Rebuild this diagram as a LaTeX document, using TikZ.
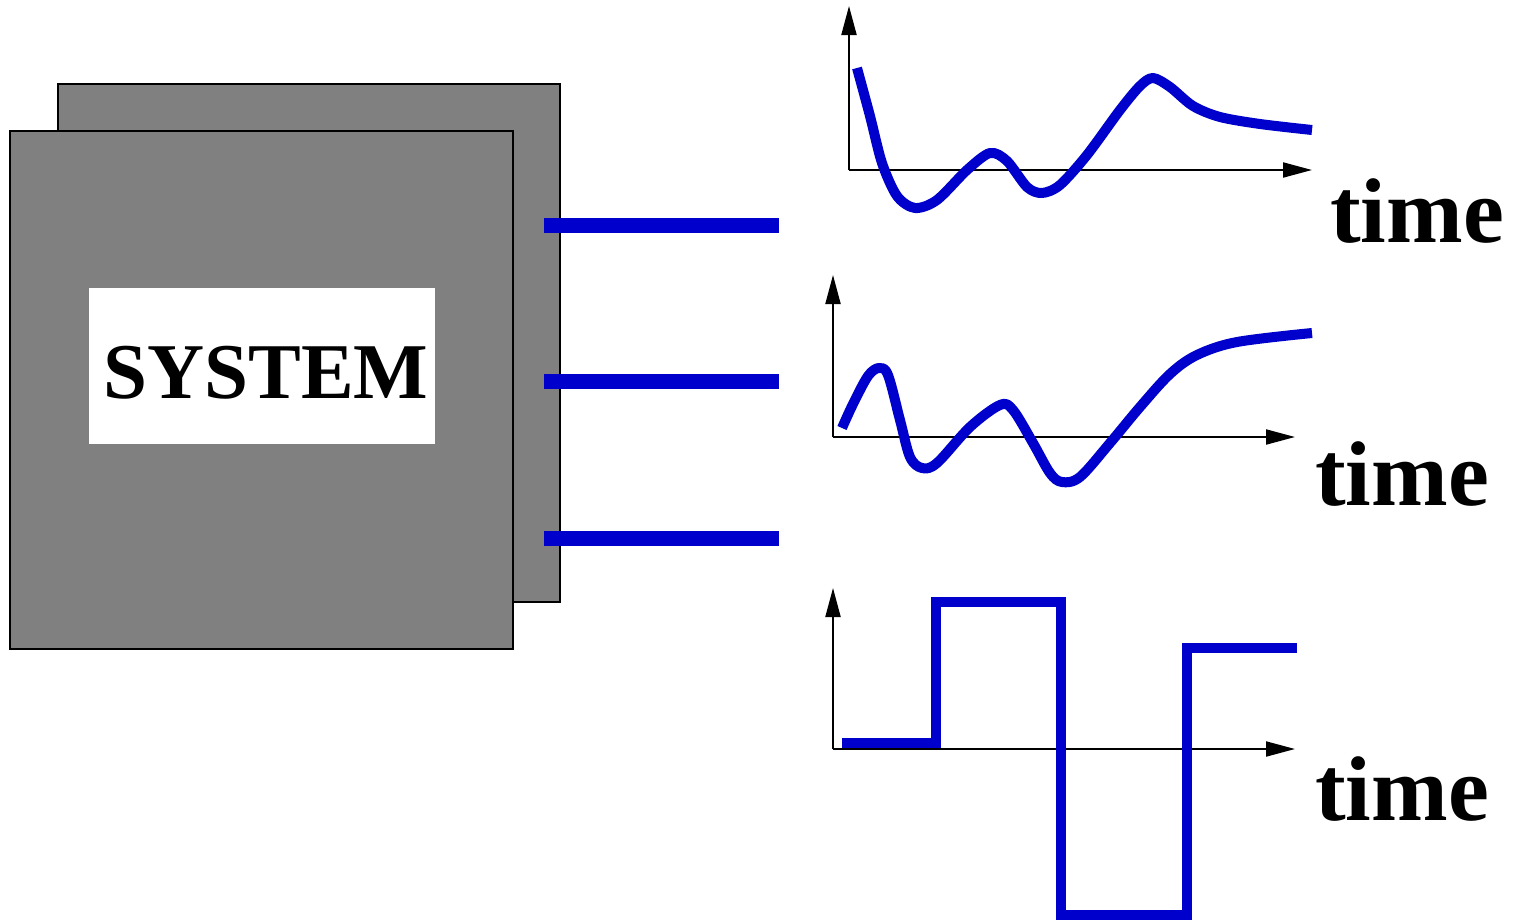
\documentclass[tikz,border=0pt]{standalone}
\usepackage{fontspec}
\setmainfont{Liberation Serif}
\usetikzlibrary{arrows.meta}
\definecolor{sigblue}{RGB}{0,0,204}
\definecolor{boxgray}{RGB}{128,128,128}
\begin{document}
\begin{tikzpicture}[x=1pt,y=-1pt,
  sysbox/.style={draw=black,line width=2pt,fill=boxgray},
  signal/.style={draw=sigblue,line width=10pt,line cap=butt},
  stub/.style={draw=sigblue,line width=15pt,line cap=butt},
  axis/.style={draw=black,line width=2pt,-{Triangle[length=29pt,width=15pt]}},
  timelabel/.style={inner sep=0pt,anchor=base west,font=\bfseries\fontsize{92}{92}\selectfont},
  syslabel/.style={inner sep=0pt,anchor=base,font=\bfseries\fontsize{79}{79}\selectfont}]
\useasboundingbox (0,0) rectangle (1519,921);
% system boxes
\draw[sysbox] (58,84) rectangle (560,602);
\draw[sysbox] (10,131) rectangle (513,649);
\fill[white] (89,288) rectangle (435,444);
\node[syslabel] (sys) at (266,398) {SYSTEM};
% output stubs
\coordinate (s1a) at (544,225); \coordinate (s1b) at (779,225);
\coordinate (s2a) at (544,381); \coordinate (s2b) at (779,381);
\coordinate (s3a) at (544,538); \coordinate (s3b) at (779,538);
\draw[stub] (s1a) -- (s1b);
\draw[stub] (s2a) -- (s2b);
\draw[stub] (s3a) -- (s3b);
% graph 1
\coordinate (o1) at (849,170);
\coordinate (y1) at (849,6);
\coordinate (x1) at (1312,170);
\draw[axis] (o1) -- (y1);
\draw[axis] (o1) -- (x1);
\draw[signal,line join=round] plot[smooth,tension=0.5] coordinates {
 (857,68) (870,116) (882,163) (897,196) (915,208) (937,200) (967,170) (990,153)
 (1007,161) (1027,187) (1042,193) (1060,185) (1087,155) (1120,110)
 (1140,86) (1153,78) (1170,87) (1193,106) (1220,117) (1260,124) (1312,130)};
\node[timelabel] (t1) at (1330,242) {time};
% graph 2
\coordinate (o2) at (833,437);
\coordinate (y2) at (833,275);
\coordinate (x2) at (1295,437);
\draw[axis] (o2) -- (y2);
\draw[axis] (o2) -- (x2);
\draw[signal,line join=round] plot[smooth,tension=0.55] coordinates {
 (842,428) (853,404) (868,376) (879,368) (888,375) (900,420) (910,457)
 (922,468) (937,463) (970,427) (1000,405) (1013,410) (1033,443)
 (1050,473) (1062,482) (1080,477) (1110,443) (1140,407) (1170,374)
 (1197,355) (1237,342) (1312,333)};
\node[timelabel] (t2) at (1315,505) {time};
% graph 3
\coordinate (o3) at (833,749);
\coordinate (y3) at (833,588);
\coordinate (x3) at (1295,749);
\draw[axis] (o3) -- (y3);
\draw[axis] (o3) -- (x3);
\draw[signal,line join=miter] (842,743) -- (936,743) -- (936,602) -- (1061,602)
  -- (1061,915) -- (1187,915) -- (1187,648) -- (1297,648);
\node[timelabel] (t3) at (1315,820) {time};
\end{tikzpicture}
\end{document}
